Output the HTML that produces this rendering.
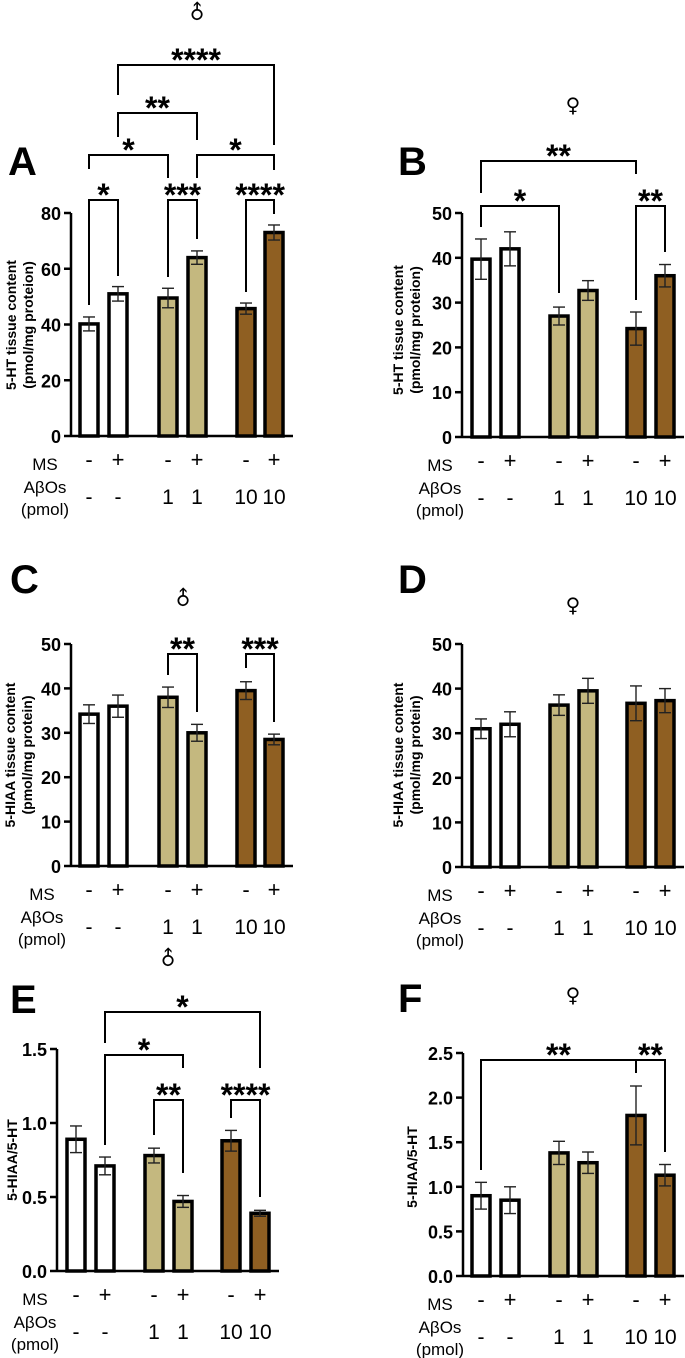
<!DOCTYPE html>
<html><head><meta charset="utf-8">
<style>
html,body{margin:0;padding:0;background:#fff;}
svg{display:block;font-family:"Liberation Sans","DejaVu Sans",sans-serif;}
</style></head>
<body>
<svg id="fig" width="685" height="1358" viewBox="0 0 685 1358" xmlns="http://www.w3.org/2000/svg"></svg>
<script>
// ---- data ----
const groupColors = ["#ffffff","#ffffff","#c4b87f","#c4b87f","#8f5f22","#8f5f22"];
const msLabels = ["-","+","-","+","-","+"];
const abLabels = ["-","-","1","1","10","10"];
const valuesA = [40.2, 51, 49.5, 64, 45.7, 73];
const errorsA = [2.5, 2.6, 3.5, 2.4, 2.0, 2.7];
const valuesB = [39.7, 42, 27, 32.7, 24.2, 36];
const errorsB = [4.5, 3.8, 2.0, 2.2, 3.7, 2.5];
const valuesC = [34.2, 36, 38, 30, 39.5, 28.5];
const errorsC = [2.1, 2.5, 2.3, 1.9, 2.0, 1.2];
const valuesD = [31, 32, 36.3, 39.5, 36.7, 37.3];
const errorsD = [2.2, 2.8, 2.3, 2.8, 3.9, 2.7];
const valuesE = [0.89, 0.71, 0.78, 0.47, 0.88, 0.39];
const errorsE = [0.09, 0.06, 0.05, 0.04, 0.07, 0.02];
const valuesF = [0.90, 0.85, 1.38, 1.27, 1.80, 1.13];
const errorsF = [0.15, 0.15, 0.13, 0.12, 0.33, 0.12];
const ticksA = [0,20,40,60,80];
const ticks50 = [0,10,20,30,40,50];
const ticksE = [0,0.5,1.0,1.5];
const ticksF = [0,0.5,1.0,1.5,2.0,2.5];
const tickLabelsE = ["0.0","0.5","1.0","1.5"];
const tickLabelsF = ["0.0","0.5","1.0","1.5","2.0","2.5"];

const NS="http://www.w3.org/2000/svg";
const svg=document.getElementById('fig');
function mk(tag,attrs,parent,text){
  const e=document.createElementNS(NS,tag);
  for(const k in attrs) e.setAttribute(k,attrs[k]);
  if(text!==undefined) e.textContent=text;
  (parent||svg).appendChild(e);
  return e;
}
const leftX=[89,118,168,197,246,274];
const rightX=[481,510,559,588,636,665];
const eX=[76,105,154,183,231,260];

const panels=[
 {id:"a",letter:"A",lx:8,ly:175,sex:"m",sx:197,sy:12,axisX:71,axisEnd:293,base:436,top:213,max:80,ticks:ticksA,tl:null,xs:leftX,vals:valuesA,errs:errorsA,
  title:["5-HT tissue content","(pmol/mg proteion)"],tx:[11,28],ty:325,labCx:45,
  br:[[0,1,200,"*",305,276],[2,3,200,"***",277,239],[4,5,200,"****",292,214],[0,2,155,"*",169,178],[3,5,155,"*",178,170],[1,3,113,"**",137,140],[1,5,65,"****",95,145]]},
 {id:"b",letter:"B",lx:398,ly:175,sex:"f",sx:573,sy:105,axisX:462,axisEnd:684,base:437,top:213,max:50,ticks:ticks50,tl:null,xs:rightX,vals:valuesB,errs:errorsB,
  title:["5-HT tissue content","(pmol/mg proteion)"],tx:[398,415],ty:330,labCx:440,
  br:[[0,4,161,"**",193,174],[0,2,206,"*",227,293],[4,5,206,"**",300,252]]},
 {id:"c",letter:"C",lx:10,ly:593,sex:"m",sx:183,sy:598,axisX:71,axisEnd:293,base:866,top:644,max:50,ticks:ticks50,tl:null,xs:leftX,vals:valuesC,errs:errorsC,
  title:["5-HIAA tissue content","(pmol/mg protein)"],tx:[10,27],ty:755,labCx:42,
  br:[[2,3,654,"**",675,712],[4,5,654,"***",668,722]]},
 {id:"d",letter:"D",lx:398,ly:593,sex:"f",sx:573,sy:605,axisX:462,axisEnd:684,base:867,top:644,max:50,ticks:ticks50,tl:null,xs:rightX,vals:valuesD,errs:errorsD,
  title:["5-HIAA tissue content","(pmol/mg protein)"],tx:[398,415],ty:755,labCx:440,br:[]},
 {id:"e",letter:"E",lx:10,ly:1013,sex:"m",sx:168,sy:958,axisX:57,axisEnd:279,base:1271,top:1049,max:1.5,ticks:ticksE,tl:tickLabelsE,xs:eX,vals:valuesE,errs:errorsE,
  title:["5-HIAA/5-HT"],tx:[12],ty:1160,labCx:35,
  br:[[1,5,1012,"*",1043,1068],[1,3,1055,"*",1145,1068],[2,3,1100,"**",1135,1173],[4,5,1100,"****",1118,1197]]},
 {id:"f",letter:"F",lx:398,ly:1012,sex:"f",sx:573,sy:995,axisX:463,axisEnd:684,base:1276,top:1053,max:2.5,ticks:ticksF,tl:tickLabelsF,xs:rightX,vals:valuesF,errs:errorsF,
  title:["5-HIAA/5-HT"],tx:[412],ty:1167,labCx:440,
  br:[[0,4,1060,"**",1170,1073],[4,5,1060,"**",1073,1152]]}
];

panels.forEach(p=>{
  const g=mk('g',{});
  
  
  const y=v=>p.base-v/p.max*(p.base-p.top);
  const L=mk('text',{x:p.lx,y:p.ly,'font-size':40,'font-weight':'bold'},g,p.letter);
  
  
  const S=mk('text',{x:p.sx,y:p.sy+7,'font-size':20,'text-anchor':'middle','font-family':'"DejaVu Sans",sans-serif',
    transform:p.sex==="m"?`rotate(-45 ${p.sx} ${p.sy})`:''},g,p.sex==="m"?"\u2642":"\u2640");
  
  
  const ax=mk('g',{},g);
  
  
  mk('line',{x1:p.axisX,y1:p.top,x2:p.axisX,y2:p.base,stroke:'#000','stroke-width':2.5},ax);
  p.ticks.forEach((t,i)=>{
    mk('line',{x1:p.axisX-7,y1:y(t),x2:p.axisX,y2:y(t),stroke:'#000','stroke-width':2.5},ax);
    const tt=mk('text',{x:p.axisX-10,y:y(t)+7,'font-size':18,'font-weight':'bold','text-anchor':'end'},ax,p.tl?p.tl[i]:String(t));
    
    
  });
  const xa=mk('line',{x1:p.axisX,y1:p.base,x2:p.axisEnd,y2:p.base,stroke:'#000','stroke-width':2.5},g);
  
  
  p.title.forEach((t,i)=>{
    const tx=p.tx[i]+5;
    const T=mk('text',{x:tx,y:p.ty,'font-size':14,'font-weight':'bold','text-anchor':'middle',transform:`rotate(-90 ${tx} ${p.ty})`},g,t);
    
    
  });
  p.vals.forEach((v,i)=>{
    const cx=p.xs[i], w=18;
    const r=mk('rect',{x:cx-w/2,y:y(v),width:w,height:p.base-y(v),fill:groupColors[i],stroke:'#000','stroke-width':3.5},g);
    
    
    const e=p.errs[i];
    const eg=mk('g',{stroke:'#222','stroke-width':1.4},g);
    
    
    mk('line',{x1:cx,y1:y(v+e),x2:cx,y2:y(v-e)},eg);
    mk('line',{x1:cx-6,y1:y(v+e),x2:cx+6,y2:y(v+e)},eg);
    mk('line',{x1:cx-6,y1:y(v-e),x2:cx+6,y2:y(v-e)},eg);
    const m=mk('text',{x:cx,y:p.base+31,'font-size':22,'text-anchor':'middle'},g,msLabels[i]);
    
    
    const a=mk('text',{x:cx,y:p.base+68,'font-size':21,'text-anchor':'middle'},g,abLabels[i]);
    
    
  });
  [["MS",34],["A\u03b2Os",57],["(pmol)",79]].forEach(([t,dy])=>{
    const R=mk('text',{x:p.labCx,y:p.base+dy,'font-size':17,'text-anchor':'middle'},g,t);
    
    
  });
  p.br.forEach(b=>{
    const [i,j,by,lab,e1,e2]=b;
    const bg=mk('g',{},g);
    
    
    const x1=p.xs[i], x2=p.xs[j];
    mk('polyline',{points:`${x1},${e1} ${x1},${by} ${x2},${by} ${x2},${e2}`,fill:'none',stroke:'#000','stroke-width':2},bg);
    mk('text',{x:(x1+x2)/2,y:by+6,'font-size':32,'font-weight':'bold','text-anchor':'middle'},bg,lab);
  });
});
</script>
</body></html>
